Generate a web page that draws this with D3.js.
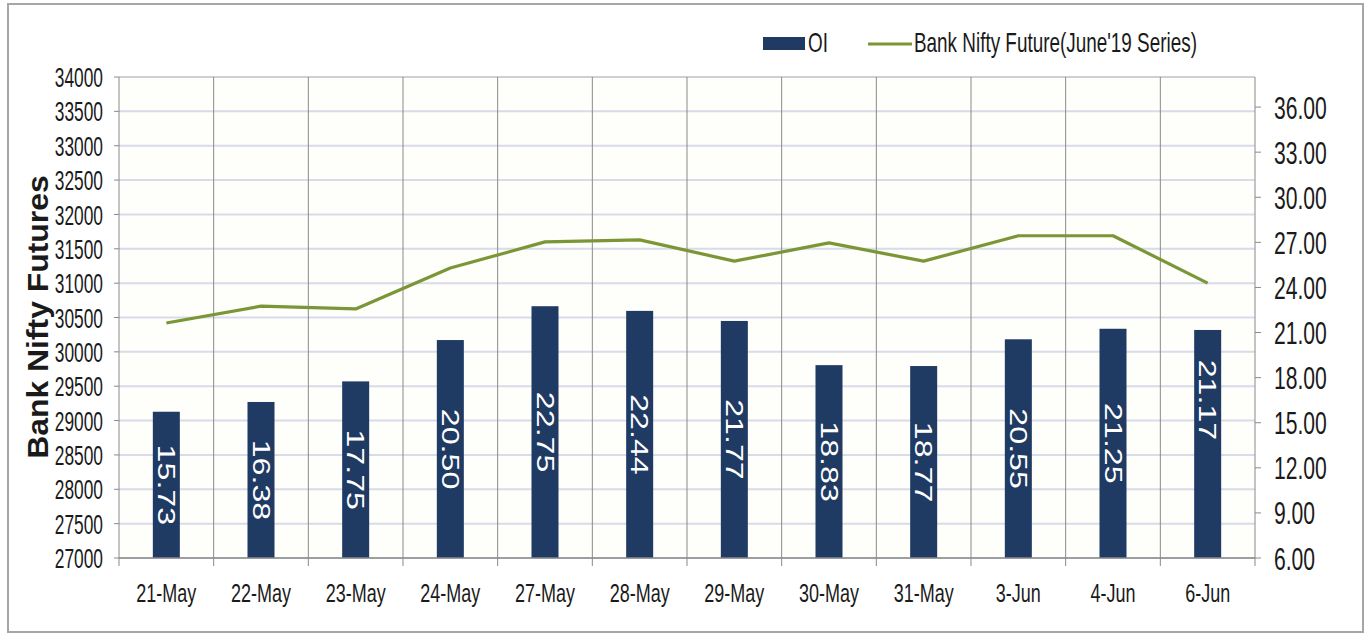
<!DOCTYPE html>
<html>
<head>
<meta charset="utf-8">
<script src="https://cdn.jsdelivr.net/npm/d3@7"></script>
<style>
  body { margin: 0; background: #fff; }
  svg { display: block; }
  .narrow { font-family: "Liberation Sans", Arial, sans-serif; fill: #1a1a1a; }
</style>
</head>
<body>
<svg id="chart" width="1372" height="636"></svg>
<script>
const dates = ['21-May','22-May','23-May','24-May','27-May','28-May','29-May','30-May','31-May','3-Jun','4-Jun','6-Jun'];
const oi = [15.73,16.38,17.75,20.50,22.75,22.44,21.77,18.83,18.77,20.55,21.25,21.17];
const futures = [30420,30665,30625,31220,31600,31630,31320,31585,31320,31690,31690,31000];
const leftTicks = d3.range(27000, 34001, 500);
const rightTicks = d3.range(6, 36.1, 3);

const svg = d3.select('#chart');
const m = {left:119, right:1255, top:77, bottom:558};

// chart frame
svg.append('rect').attr('x',8).attr('y',4).attr('width',1355).attr('height',628)
  .attr('fill','#fff').attr('stroke','#a6a6a6').attr('stroke-width',2);

const x = d3.scaleBand().domain(dates).range([m.left, m.right]).padding(0);
const yL = d3.scaleLinear().domain([27000, 34000]).range([m.bottom, m.top]);
const yR = d3.scaleLinear().domain([6, 38]).range([m.bottom, m.top]);

svg.append('rect').attr('x',m.left).attr('y',m.top).attr('width',m.right-m.left).attr('height',m.bottom-m.top)
  .attr('fill','#fefefa');

// horizontal grid
svg.append('g').selectAll('line').data(leftTicks).join('line')
  .attr('x1',m.left).attr('x2',m.right)
  .attr('y1',d=>yL(d)).attr('y2',d=>yL(d))
  .attr('stroke', d => d===34000 ? '#a0a0a0' : '#d8dbe9').attr('stroke-width', d => d===34000 ? 1 : 2);

// vertical grid at category boundaries
svg.append('g').selectAll('line').data(dates.slice(1)).join('line')
  .attr('x1',d=>x(d)).attr('x2',d=>x(d))
  .attr('y1',m.top).attr('y2',m.bottom+8)
  .attr('stroke','#8a8a8a').attr('stroke-width',1);

// bars
const bw = 27;
svg.append('g').selectAll('rect').data(oi).join('rect')
  .attr('x',(d,i)=>x(dates[i])+x.bandwidth()/2-bw/2)
  .attr('width',bw)
  .attr('y',d=>yR(d))
  .attr('height',d=>m.bottom-yR(d))
  .attr('fill','#1f3a63');

// bar labels, rotated, white
svg.append('g').selectAll('text').data(oi).join('text')
  .attr('transform',(d,i)=>{
    const cx = x(dates[i])+x.bandwidth()/2;
    let cy = (yR(d)+m.bottom)/2;
    if (i === oi.length-1) cy -= 44; // last label sits higher in the original
    return `translate(${cx},${cy}) rotate(90) scale(1.4,1)`;
  })
  .attr('text-anchor','middle').attr('dy','0.36em')
  .attr('font-family','"Liberation Sans", Arial, sans-serif').attr('font-size',23)
  .attr('fill','#fff')
  .text(d=>d.toFixed(2));

// line
const line = d3.line().x((d,i)=>x(dates[i])+x.bandwidth()/2).y(d=>yL(d));
svg.append('path').datum(futures).attr('d',line)
  .attr('fill','none').attr('stroke','#7a9636').attr('stroke-width',3.2).attr('stroke-linejoin','round');

// axes lines
svg.append('line').attr('x1',m.left).attr('x2',m.left).attr('y1',m.top).attr('y2',m.bottom).attr('stroke','#8a8a8a');
svg.append('line').attr('x1',m.right).attr('x2',m.right).attr('y1',m.top).attr('y2',m.bottom).attr('stroke','#8a8a8a');
svg.append('line').attr('x1',m.left).attr('x2',m.right).attr('y1',m.bottom).attr('y2',m.bottom).attr('stroke','#8a8a8a').attr('stroke-width',1.5);
svg.append('line').attr('x1',m.left).attr('x2',m.left).attr('y1',m.bottom).attr('y2',m.bottom+8).attr('stroke','#8a8a8a');
svg.append('line').attr('x1',m.right).attr('x2',m.right).attr('y1',m.bottom).attr('y2',m.bottom+8).attr('stroke','#8a8a8a');

// left ticks + labels
const gl = svg.append('g');
gl.selectAll('line').data(leftTicks).join('line')
  .attr('x1',m.left-5).attr('x2',m.left).attr('y1',d=>yL(d)).attr('y2',d=>yL(d)).attr('stroke','#8a8a8a');
gl.selectAll('text').data(leftTicks).join('text').attr('class','narrow')
  .attr('transform',d=>`translate(103,${yL(d)}) scale(0.62,1)`)
  .attr('text-anchor','end').attr('dy','0.36em').attr('font-size',28)
  .text(d=>d);

// right ticks + labels
const gr = svg.append('g');
gr.selectAll('line').data(rightTicks).join('line')
  .attr('x1',m.right).attr('x2',m.right+6).attr('y1',d=>yR(d)).attr('y2',d=>yR(d)).attr('stroke','#8a8a8a');
gr.selectAll('text').data(rightTicks).join('text').attr('class','narrow')
  .attr('transform',d=>`translate(1274,${yR(d)}) scale(0.66,1)`)
  .attr('text-anchor','start').attr('dy','0.36em').attr('font-size',32)
  .text(d=>d.toFixed(2));

// category labels
svg.append('g').selectAll('text').data(dates).join('text').attr('class','narrow')
  .attr('transform',d=>`translate(${x(d)+x.bandwidth()/2},602) scale(0.72,1)`)
  .attr('text-anchor','middle').attr('font-size',25)
  .text(d=>d);

// y title
svg.append('text')
  .attr('transform','translate(38,317) rotate(-90) scale(1.1,1)')
  .attr('text-anchor','middle').attr('dy','0.36em')
  .attr('font-family','"Liberation Sans", Arial, sans-serif').attr('font-weight','bold').attr('font-size',29)
  .attr('fill','#1a1a1a')
  .text('Bank Nifty Futures');

// legend
const lg = svg.append('g');
lg.append('rect').attr('x',763).attr('y',37).attr('width',42).attr('height',13).attr('fill','#1f3a63');
lg.append('text').attr('class','narrow').attr('transform','translate(808,52) scale(0.7,1)').attr('font-size',27).text('OI');
lg.append('line').attr('x1',868).attr('x2',912).attr('y1',44).attr('y2',44).attr('stroke','#7a9636').attr('stroke-width',3.2);
lg.append('text').attr('class','narrow').attr('transform','translate(914,52) scale(0.7,1)').attr('font-size',27).text("Bank Nifty Future(June'19 Series)");
</script>
</body>
</html>
